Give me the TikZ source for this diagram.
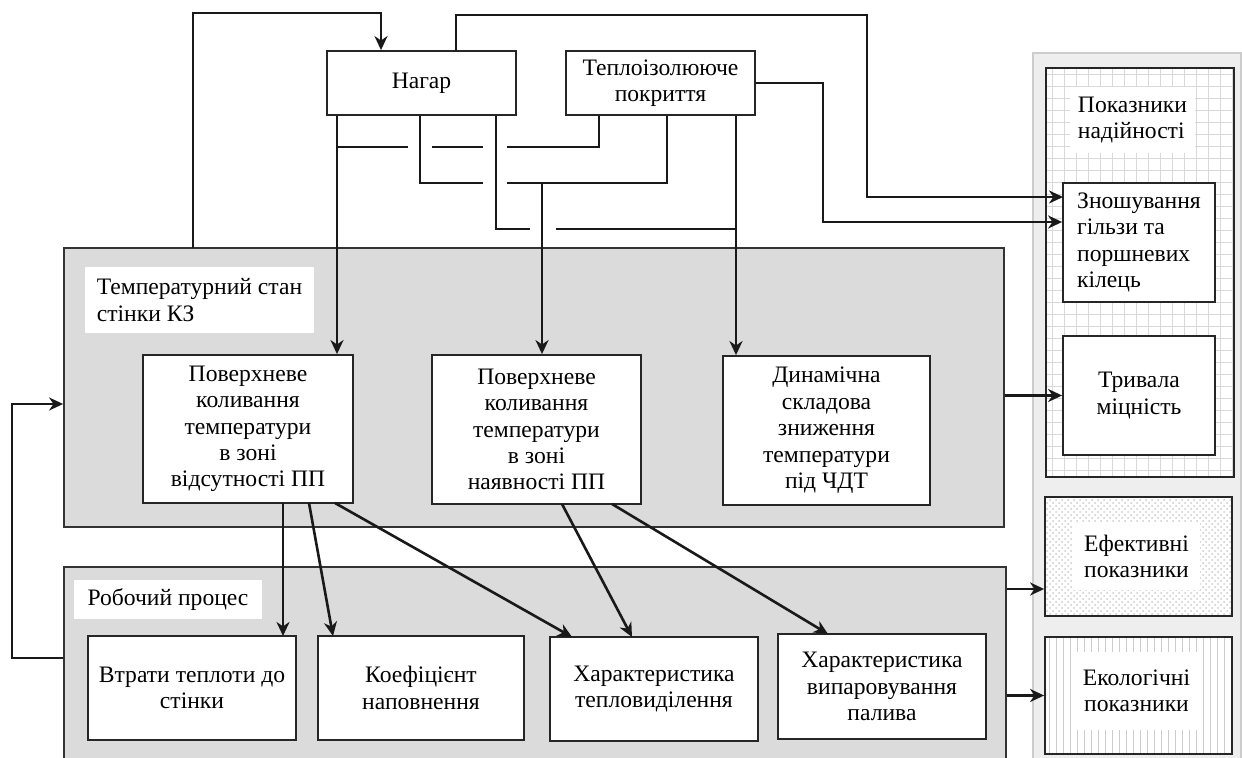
\documentclass[tikz,border=0pt]{standalone}
\usepackage{fontspec}
\setmainfont{Liberation Serif}
\usetikzlibrary{arrows.meta,fit,patterns}
\newcommand\dfont{\fontsize{11.8}{13.2}\selectfont}
\begin{document}
\begin{tikzpicture}[x=0.5pt,y=-0.5pt,
  box/.style={draw=black!85, fill=white, line width=0.9pt, inner sep=0pt, align=center, font=\dfont},
  lbl/.style={fill=white, inner sep=0pt, font=\dfont},
  grp/.style={draw=black!80, fill=gray!28, line width=0.9pt, inner sep=0pt},
  frame/.style={draw=black!85, line width=0.9pt, inner sep=0pt},
  conn/.style={line width=1.3pt, black!90},
  arr/.style={conn, -{Stealth[length=7pt,width=6.5pt,inset=2.2pt]}},
  gridc/.style={gray!30, line width=0.45pt}]
\useasboundingbox (0,0) rectangle (1242,758);
\fill[white] (0,0) rectangle (1242,758);

% right panel
\fill[gray!13] (1033,53) rectangle (1241,760);
\draw[gray!40, line width=0.6pt] (1033,760) -- (1033,53) -- (1241,53) -- (1241,760);

% reliability group with grid
\fill[white] (1046,68) rectangle (1234,477);
\foreach \x in {1052,1064,...,1232} \draw[gridc] (\x,68) -- (\x,477);
\foreach \y in {74,86,...,476} \draw[gridc] (1046,\y) -- (1234,\y);
\node[frame, fit={(1046,68)(1234,477)}] (rel) {};
\node[lbl, align=left, minimum width=62.5pt, minimum height=33pt] (rell) at (1132.5,120) {Показники\\надійності};

% effective (dotted)
\fill[white] (1045,497) rectangle (1232,616);
\fill[pattern=crosshatch dots, pattern color=gray!40] (1045,497) rectangle (1232,616);
\node[lbl, align=center, minimum width=63.5pt, minimum height=33.5pt] (effl) at (1136.5,556.5) {Ефективні\\показники};
\node[frame, fit={(1045,497)(1232,616)}] (eff) {};

% ecological (vertical lines)
\fill[white] (1045,637) rectangle (1232,754);
\foreach \x in {1049,1056,...,1230} \draw[gray!40, line width=0.45pt] (\x,637) -- (\x,754);
\node[lbl, align=center, minimum width=63.5pt, minimum height=39pt] (ecol) at (1136.5,691) {Екологічні\\показники};
\node[frame, fit={(1045,637)(1232,754)}] (eco) {};

% reliability sub boxes
\node[box, align=left, minimum width=76pt, minimum height=59.5pt] (wear) at (1139,242.5) {Зношування\\гільзи та\\поршневих\\кілець};
\node[box, minimum width=76pt, minimum height=59.5pt] (dur) at (1139,395.5) {Тривала\\міцність};

% group boxes
\node[grp, fit={(64,248)(1004,527)}] (temp) {};
\node[grp, fit={(64,567)(1006,766)}] (rob) {};
\node[lbl, align=left, minimum width=114.5pt, minimum height=33pt] (templ) at (199.5,300) {Температурний стан\\стінки КЗ};
\node[lbl, minimum width=94pt, minimum height=19.5pt] (robl) at (168,599.5) {Робочий процес};

% top boxes
\node[box, minimum width=94.5pt, minimum height=32pt] (nag) at (421.5,83) {Нагар};
\node[box, minimum width=94.5pt, minimum height=32pt] (tep) at (660.5,83) {Теплоізолююче\\покриття};

% temperature state boxes
\node[box, minimum width=105pt, minimum height=74pt] (p1) at (248,429) {Поверхневе\\коливання\\температури\\в зоні\\відсутності ПП};
\node[box, minimum width=104.5pt, minimum height=74.5pt] (p2) at (536.5,429.5) {Поверхневе\\коливання\\температури\\в зоні\\наявності ПП};
\node[box, minimum width=103.5pt, minimum height=74.5pt] (dyn) at (826.5,430.5) {Динамічна\\складова\\зниження\\температури\\під ЧДТ};

% working process boxes
\node[box, minimum width=104pt, minimum height=52pt] (b1) at (192,688) {Втрати теплоти до\\стінки};
\node[box, minimum width=103pt, minimum height=52pt] (b2) at (421,688) {Коефіцієнт\\наповнення};
\node[box, minimum width=104pt, minimum height=52pt] (b3) at (654,689) {Характеристика\\тепловиділення};
\node[box, minimum width=104pt, minimum height=52.5pt] (b4) at (882,686.5) {Характеристика\\випаровування\\палива};

% coordinates
\coordinate (lt) at (193,248);
\coordinate (lta) at (381,13);
\coordinate (n1) at (456,51);
\coordinate (n1t) at (867,15);
\coordinate (w1) at (1063,197);
\coordinate (t1) at (823,222);
\coordinate (v1) at (337,0);
\coordinate (v2) at (420,0);
\coordinate (v3) at (496,0);
\coordinate (u1) at (599,0);
\coordinate (u2) at (667,0);
\coordinate (u3) at (736,0);
\coordinate (m2) at (542,0);
\coordinate (fb1) at (12,658);
\coordinate (fb2) at (12,404);

% top loops
\draw[arr] (lt) |- (lta) -- (lta |- nag.north);
\draw[arr] (n1) |- (n1t) |- (w1);
\draw[arr] (tep.east) -| (t1) -- (t1 -| wear.west);

% line 1
\draw[arr] (v1 |- nag.south) -- (v1 |- p1.north);
\draw[conn] (u1 |- tep.south) |- (507,147);
\draw[conn] (483,147) -- (432,147);
\draw[conn] (408,147) -- (337,147);
% line 2
\draw[conn] (v2 |- nag.south) |- (483,183);
\draw[conn] (507,183) -| (u2 |- tep.south);
\draw[arr] (542,183) -- (m2 |- p2.north);
% line 3
\draw[conn] (v3 |- nag.south) |- (530,229);
\draw[conn] (556,229) -- (736,229);
\draw[arr] (u3 |- tep.south) -- (u3 |- dyn.north);

% right arrows
\draw[arr] (temp.east |- dur.west) -- (dur.west);
\draw[arr] (rob.east |- 0,589) -- (eff.west |- 0,589);
\draw[arr] (rob.east |- eco.west) -- (eco.west);

% feedback
\draw[arr] (rob.west |- fb1) -- (fb1) -- (fb2) -- (fb2 -| temp.west);

% temperature to process
\draw[arr] (283,503) -- (283,636);
\draw[arr] (309,503) -- (333,636);
\draw[arr] (335,503) -- (572,637);
\draw[arr] (562,504) -- (632,637);
\draw[arr] (612,504) -- (828,634);
\end{tikzpicture}
\end{document}
